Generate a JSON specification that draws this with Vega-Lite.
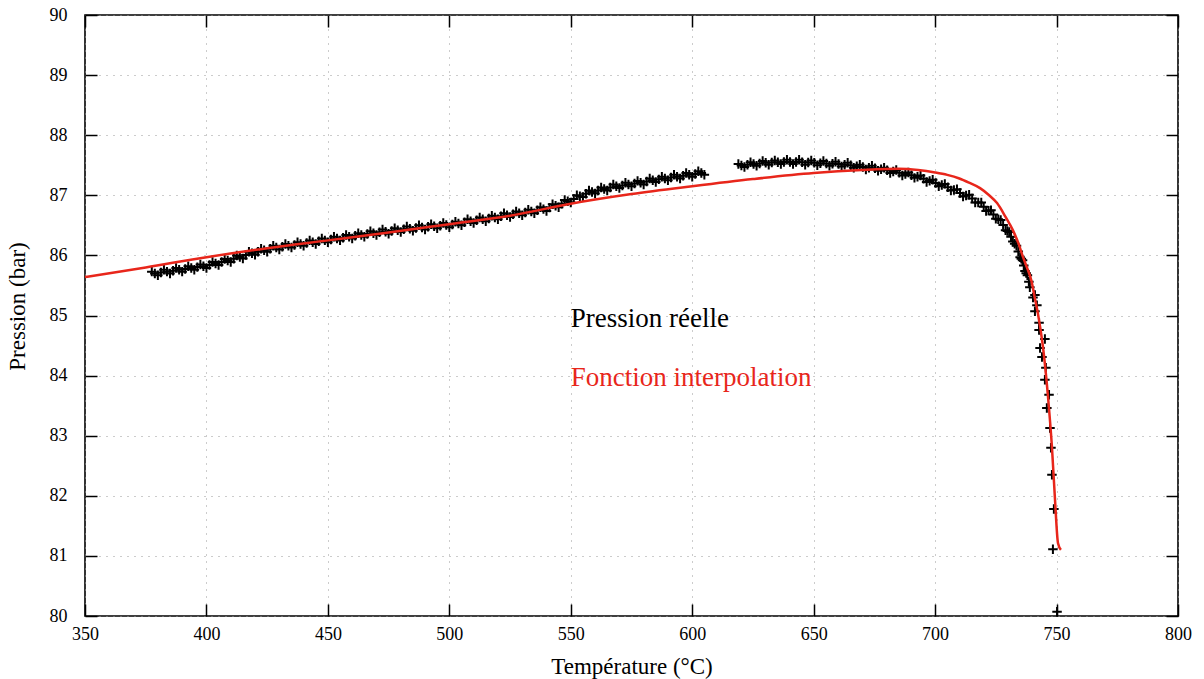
{
  "$schema": "https://vega.github.io/schema/vega-lite/v6.json",
  "width": 1093,
  "height": 601,
  "autosize": "none",
  "padding": {"left": 85, "top": 15, "right": 26, "bottom": 63},
  "background": "white",
  "config": {
    "view": {"stroke": "black", "strokeWidth": 1.6},
    "axis": {
      "labelFont": "Liberation Serif",
      "labelFontSize": 18,
      "labelColor": "black",
      "labelFlush": false,
      "labelOverlap": false,
      "titleFont": "Liberation Serif",
      "titleFontSize": 23,
      "titleFontWeight": "normal",
      "titleColor": "black",
      "tickColor": "black",
      "tickWidth": 1.5,
      "domain": false,
      "gridColor": "#999999",
      "gridDash": [1, 6],
      "gridWidth": 1
    }
  },
  "resolve": {"axis": {"x": "independent", "y": "independent"}},
  "layer": [
    {
      "data": {"values": [
        {"T":377.5,"P":85.73},{"T":378.75,"P":85.70},{"T":380,"P":85.67},{"T":381.25,"P":85.715},{"T":382.5,"P":85.76},{"T":383.75,"P":85.73},{"T":385,"P":85.70},{"T":386.25,"P":85.745},{"T":387.5,"P":85.79},{"T":388.75,"P":85.76},
        {"T":390,"P":85.73},{"T":391.25,"P":85.775},{"T":392.5,"P":85.82},{"T":393.75,"P":85.79},{"T":395,"P":85.76},{"T":396.25,"P":85.805},{"T":397.5,"P":85.85},{"T":398.75,"P":85.82},{"T":400,"P":85.79},{"T":401.25,"P":85.84},
        {"T":402.5,"P":85.89},{"T":403.75,"P":85.865},{"T":405,"P":85.84},{"T":406.25,"P":85.89},{"T":407.5,"P":85.94},{"T":408.75,"P":85.915},{"T":410,"P":85.89},{"T":411.25,"P":85.945},{"T":412.5,"P":86.00},{"T":413.75,"P":85.975},
        {"T":415,"P":85.95},{"T":416.25,"P":86.005},{"T":417.5,"P":86.06},{"T":418.75,"P":86.035},{"T":420,"P":86.01},{"T":421.25,"P":86.06},{"T":422.5,"P":86.11},{"T":423.75,"P":86.085},{"T":425,"P":86.06},{"T":426.25,"P":86.11},
        {"T":427.5,"P":86.16},{"T":428.75,"P":86.13},{"T":430,"P":86.10},{"T":431.25,"P":86.145},{"T":432.5,"P":86.19},{"T":433.75,"P":86.16},{"T":435,"P":86.13},{"T":436.25,"P":86.175},{"T":437.5,"P":86.22},{"T":438.75,"P":86.19},
        {"T":440,"P":86.16},{"T":441.25,"P":86.205},{"T":442.5,"P":86.25},{"T":443.75,"P":86.22},{"T":445,"P":86.19},{"T":446.25,"P":86.235},{"T":447.5,"P":86.28},{"T":448.75,"P":86.25},{"T":450,"P":86.22},{"T":451.25,"P":86.265},
        {"T":452.5,"P":86.31},{"T":453.75,"P":86.28},{"T":455,"P":86.25},{"T":456.25,"P":86.295},{"T":457.5,"P":86.34},{"T":458.75,"P":86.31},{"T":460,"P":86.28},{"T":461.25,"P":86.325},{"T":462.5,"P":86.37},{"T":463.75,"P":86.34},
        {"T":465,"P":86.31},{"T":466.25,"P":86.355},{"T":467.5,"P":86.40},{"T":468.75,"P":86.37},{"T":470,"P":86.34},{"T":471.25,"P":86.385},{"T":472.5,"P":86.43},{"T":473.75,"P":86.395},{"T":475,"P":86.36},{"T":476.25,"P":86.405},
        {"T":477.5,"P":86.45},{"T":478.75,"P":86.42},{"T":480,"P":86.39},{"T":481.25,"P":86.435},{"T":482.5,"P":86.48},{"T":483.75,"P":86.445},{"T":485,"P":86.41},{"T":486.25,"P":86.455},{"T":487.5,"P":86.50},{"T":488.75,"P":86.465},
        {"T":490,"P":86.43},{"T":491.25,"P":86.475},{"T":492.5,"P":86.52},{"T":493.75,"P":86.485},{"T":495,"P":86.45},{"T":496.25,"P":86.495},{"T":497.5,"P":86.54},{"T":498.75,"P":86.505},{"T":500,"P":86.47},{"T":501.25,"P":86.515},
        {"T":502.5,"P":86.56},{"T":503.75,"P":86.53},{"T":505,"P":86.50},{"T":506.25,"P":86.55},{"T":507.5,"P":86.60},{"T":508.75,"P":86.57},{"T":510,"P":86.54},{"T":511.25,"P":86.585},{"T":512.5,"P":86.63},{"T":513.75,"P":86.60},
        {"T":515,"P":86.57},{"T":516.25,"P":86.615},{"T":517.5,"P":86.66},{"T":518.75,"P":86.63},{"T":520,"P":86.60},{"T":521.25,"P":86.65},{"T":522.5,"P":86.70},{"T":523.75,"P":86.67},{"T":525,"P":86.64},{"T":526.25,"P":86.685},
        {"T":527.5,"P":86.73},{"T":528.75,"P":86.70},{"T":530,"P":86.67},{"T":531.25,"P":86.715},{"T":532.5,"P":86.76},{"T":533.75,"P":86.73},{"T":535,"P":86.70},{"T":536.25,"P":86.75},{"T":537.5,"P":86.80},{"T":538.75,"P":86.77},
        {"T":540,"P":86.74},{"T":541.25,"P":86.795},{"T":542.5,"P":86.85},{"T":543.75,"P":86.825},{"T":545,"P":86.80},{"T":546.25,"P":86.86},{"T":547.5,"P":86.92},{"T":548.75,"P":86.90},{"T":550,"P":86.88},{"T":551.25,"P":86.94},
        {"T":552.5,"P":87.00},{"T":553.75,"P":86.985},{"T":555,"P":86.97},{"T":556.25,"P":87.025},{"T":557.5,"P":87.08},{"T":558.75,"P":87.055},{"T":560,"P":87.03},{"T":561.25,"P":87.08},{"T":562.5,"P":87.13},{"T":563.75,"P":87.105},
        {"T":565,"P":87.08},{"T":566.25,"P":87.13},{"T":567.5,"P":87.18},{"T":568.75,"P":87.15},{"T":570,"P":87.12},{"T":571.25,"P":87.165},{"T":572.5,"P":87.21},{"T":573.75,"P":87.18},{"T":575,"P":87.15},{"T":576.25,"P":87.195},
        {"T":577.5,"P":87.24},{"T":578.75,"P":87.21},{"T":580,"P":87.18},{"T":581.25,"P":87.23},{"T":582.5,"P":87.28},{"T":583.75,"P":87.25},{"T":585,"P":87.22},{"T":586.25,"P":87.265},{"T":587.5,"P":87.31},{"T":588.75,"P":87.28},
        {"T":590,"P":87.25},{"T":591.25,"P":87.295},{"T":592.5,"P":87.34},{"T":593.75,"P":87.31},{"T":595,"P":87.28},{"T":596.25,"P":87.325},{"T":597.5,"P":87.37},{"T":598.75,"P":87.34},{"T":600,"P":87.31},{"T":601.25,"P":87.355},
        {"T":602.5,"P":87.40},{"T":603.75,"P":87.37},{"T":605,"P":87.34},
        {"T":619,"P":87.52},{"T":620.25,"P":87.495},{"T":621.5,"P":87.47},{"T":622.75,"P":87.51},{"T":624,"P":87.55},{"T":625.25,"P":87.52},{"T":626.5,"P":87.49},{"T":627.75,"P":87.53},{"T":629,"P":87.57},{"T":630.25,"P":87.54},
        {"T":631.5,"P":87.51},{"T":632.75,"P":87.545},{"T":634,"P":87.58},{"T":635.25,"P":87.55},{"T":636.5,"P":87.52},{"T":637.75,"P":87.555},{"T":639,"P":87.59},{"T":640.25,"P":87.555},{"T":641.5,"P":87.52},{"T":642.75,"P":87.555},
        {"T":644,"P":87.59},{"T":645.25,"P":87.55},{"T":646.5,"P":87.51},{"T":647.75,"P":87.545},{"T":649,"P":87.58},{"T":650.25,"P":87.54},{"T":651.5,"P":87.50},{"T":652.75,"P":87.535},{"T":654,"P":87.57},{"T":655.25,"P":87.53},
        {"T":656.5,"P":87.49},{"T":657.75,"P":87.525},{"T":659,"P":87.56},{"T":660.25,"P":87.52},{"T":661.5,"P":87.48},{"T":662.75,"P":87.51},{"T":664,"P":87.54},{"T":665.25,"P":87.50},{"T":666.5,"P":87.46},{"T":667.75,"P":87.485},
        {"T":669,"P":87.51},{"T":670.25,"P":87.47},{"T":671.5,"P":87.43},{"T":672.75,"P":87.46},{"T":674,"P":87.49},{"T":675.25,"P":87.45},{"T":676.5,"P":87.41},{"T":677.75,"P":87.435},{"T":679,"P":87.46},{"T":680.25,"P":87.415},
        {"T":681.5,"P":87.37},{"T":682.75,"P":87.395},{"T":684,"P":87.42},{"T":685.25,"P":87.375},{"T":686.5,"P":87.33},{"T":687.75,"P":87.355},{"T":689,"P":87.38},{"T":690.25,"P":87.335},{"T":691.5,"P":87.29},{"T":692.75,"P":87.31},
        {"T":694,"P":87.33},{"T":695.25,"P":87.275},{"T":696.5,"P":87.22},{"T":697.75,"P":87.24},{"T":699,"P":87.26},{"T":700.25,"P":87.205},{"T":701.5,"P":87.15},{"T":702.75,"P":87.17},{"T":704,"P":87.19},{"T":705.25,"P":87.135},
        {"T":706.5,"P":87.08},{"T":707.75,"P":87.09},{"T":709,"P":87.10},{"T":710.25,"P":87.04},{"T":711.5,"P":86.98},{"T":712.75,"P":86.995},{"T":714,"P":87.01},{"T":715.25,"P":86.945},{"T":716.5,"P":86.88},{"T":717.75,"P":86.88},
        {"T":719,"P":86.88},{"T":720,"P":86.81},{"T":721,"P":86.74},{"T":722,"P":86.745},{"T":723,"P":86.75},{"T":724,"P":86.68},{"T":725,"P":86.61},{"T":726,"P":86.60},{"T":727,"P":86.59},{"T":728,"P":86.505},
        {"T":729,"P":86.42},{"T":729.75,"P":86.405},{"T":730.5,"P":86.39},{"T":731.25,"P":86.31},{"T":732,"P":86.23},{"T":732.75,"P":86.195},{"T":733.5,"P":86.16},{"T":734.25,"P":86.065},{"T":735,"P":85.97},{"T":735.5,"P":85.945},
        {"T":736,"P":85.92},{"T":736.5,"P":85.83},{"T":737,"P":85.74},{"T":737.5,"P":85.705},{"T":738,"P":85.67},
        {"T":738.6,"P":85.56},{"T":739.0,"P":85.47},{"T":740.3,"P":85.30},{"T":741.1,"P":85.34},{"T":741.9,"P":85.17},{"T":741.1,"P":85.07},{"T":742.8,"P":84.88},{"T":742.8,"P":84.76},{"T":745.2,"P":84.61},{"T":743.2,"P":84.46},
        {"T":744.0,"P":84.31},{"T":745.6,"P":84.13},{"T":745.2,"P":83.93},{"T":746.9,"P":83.68},{"T":746.0,"P":83.46},{"T":747.3,"P":83.13},{"T":747.7,"P":82.80},{"T":748.1,"P":82.35},{"T":748.9,"P":81.78},{"T":748.5,"P":81.11},
        {"T":750.2,"P":80.07}
      ]},
      "mark": {"type": "point", "shape": "M-1,0H1M0,-1V1", "filled": false, "stroke": "black", "strokeWidth": 2, "size": 90, "opacity": 1},
      "encoding": {
        "x": {"field": "T", "type": "quantitative", "scale": {"domain": [350, 800], "nice": false, "zero": false},
              "axis": {"orient": "bottom", "title": "Température (°C)", "values": [350,400,450,500,550,600,650,700,750,800], "grid": true, "tickSize": -12, "labelPadding": 21, "titleY": 57, "titleBaseline": "alphabetic"}},
        "y": {"field": "P", "type": "quantitative", "scale": {"domain": [80, 90], "nice": false, "zero": false},
              "axis": {"orient": "left", "title": "Pression (bar)", "values": [80,81,82,83,84,85,86,87,88,89,90], "grid": true, "tickSize": -12, "labelPadding": 30, "titleX": -68, "titleY": 291, "titleBaseline": "middle", "titleAlign": "center", "titleAngle": -90}}
      }
    },
    {
      "data": {"values": [
        {"T":350,"P":85.64},{"T":375,"P":85.80},{"T":400,"P":85.97},{"T":425,"P":86.12},{"T":450,"P":86.25},{"T":475,"P":86.38},{"T":500,"P":86.52},{"T":525,"P":86.66},{"T":550,"P":86.86},{"T":575,"P":87.02},
        {"T":600,"P":87.15},{"T":625,"P":87.27},{"T":650,"P":87.37},{"T":670,"P":87.42},{"T":685,"P":87.44},{"T":693,"P":87.42},{"T":700,"P":87.38},{"T":705,"P":87.34},{"T":710,"P":87.28},{"T":714,"P":87.21},
        {"T":718.5,"P":87.12},{"T":722,"P":87.01},{"T":725.5,"P":86.87},{"T":729,"P":86.64},{"T":732,"P":86.42},{"T":734.5,"P":86.18},{"T":736.2,"P":85.97},{"T":738,"P":85.78},{"T":739.7,"P":85.57},{"T":741,"P":85.30},
        {"T":742.3,"P":85.04},{"T":744.4,"P":84.48},{"T":746.5,"P":83.64},{"T":748.1,"P":82.81},{"T":749.3,"P":81.98},{"T":750.6,"P":81.21},{"T":751.8,"P":81.10}
      ]},
      "mark": {"type": "line", "color": "#e8261b", "strokeWidth": 2.5, "interpolate": "monotone"},
      "encoding": {
        "x": {"field": "T", "type": "quantitative", "axis": {"orient": "top", "title": null, "labels": false, "grid": false, "tickSize": -12, "values": [350,400,450,500,550,600,650,700,750,800]}},
        "y": {"field": "P", "type": "quantitative", "axis": {"orient": "right", "title": null, "labels": false, "grid": false, "tickSize": -12, "values": [80,81,82,83,84,85,86,87,88,89,90]}}
      }
    },
    {
      "data": {"values": [{"T": 550, "P": 84.81, "label": "Pression réelle"}]},
      "mark": {"type": "text", "align": "left", "baseline": "alphabetic", "font": "Liberation Serif", "fontSize": 27, "color": "black"},
      "encoding": {
        "x": {"field": "T", "type": "quantitative", "axis": null},
        "y": {"field": "P", "type": "quantitative", "axis": null},
        "text": {"field": "label"}
      }
    },
    {
      "data": {"values": [{"T": 550, "P": 83.82, "label": "Fonction interpolation"}]},
      "mark": {"type": "text", "align": "left", "baseline": "alphabetic", "font": "Liberation Serif", "fontSize": 27, "color": "#e8261b"},
      "encoding": {
        "x": {"field": "T", "type": "quantitative", "axis": null},
        "y": {"field": "P", "type": "quantitative", "axis": null},
        "text": {"field": "label"}
      }
    }
  ]
}
